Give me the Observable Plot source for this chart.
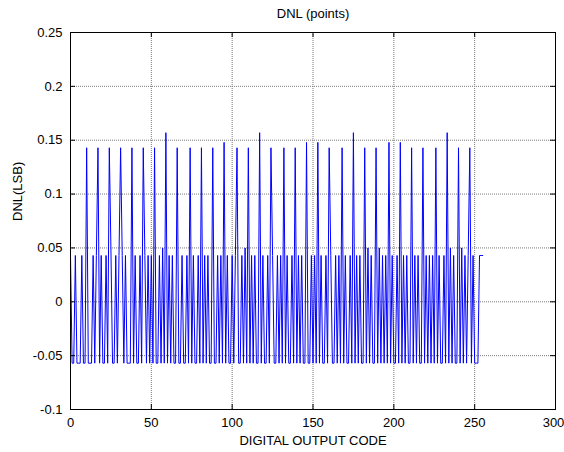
<!DOCTYPE html>
<html>
<head>
<meta charset="utf-8">
<script src="https://cdn.jsdelivr.net/npm/d3@7"></script>
<script src="https://cdn.jsdelivr.net/npm/@observablehq/plot@0.6"></script>
<style>
  html, body { margin: 0; padding: 0; background: #fff; }
</style>
</head>
<body>
<div id="chart"></div>
<script>
const titleText = "DNL (points)";
const xLabel = "DIGITAL OUTPUT CODE";
const yLabel = "DNL(LSB)";
const xTicks = [0, 50, 100, 150, 200, 250, 300];
const yTicks = [-0.1, -0.05, 0, 0.05, 0.1, 0.15, 0.2, 0.25];

// DNL value for each output code 0..255
const dnl = [
  0.043,-0.057,-0.057,0.043,-0.057,-0.057,-0.057,0.043,-0.057,-0.057,0.143,-0.057,-0.057,-0.057,0.043,-0.057,
  0.043,0.143,-0.057,0.043,-0.057,-0.057,0.043,-0.057,0.143,0.05,-0.057,-0.057,0.043,-0.057,0.043,0.143,
  0.043,-0.057,0.043,-0.057,-0.057,-0.057,0.143,-0.057,0.043,-0.057,-0.057,0.043,-0.057,0.143,0.043,-0.057,
  0.043,-0.057,0.043,-0.057,0.143,-0.057,-0.057,0.043,-0.057,0.05,-0.057,0.157,-0.057,0.043,-0.057,0.043,
  -0.057,-0.057,0.143,-0.057,-0.057,0.043,-0.057,-0.057,0.043,-0.057,0.143,-0.057,0.043,-0.057,-0.057,0.043,
  -0.057,0.143,-0.057,0.043,-0.057,0.043,-0.057,-0.057,0.143,-0.057,-0.057,0.043,-0.057,0.043,-0.057,0.148,
  -0.057,0.043,-0.057,-0.057,0.043,-0.057,0.043,0.143,-0.057,-0.057,0.043,-0.057,0.05,-0.057,0.143,-0.057,
  0.043,-0.057,0.043,-0.057,-0.057,0.157,-0.057,0.043,-0.057,-0.057,0.043,-0.057,0.143,0.043,-0.057,-0.057,
  0.043,-0.057,0.043,-0.057,0.143,-0.057,0.043,-0.057,-0.057,0.043,-0.057,0.143,-0.057,0.043,-0.057,0.043,
  -0.057,-0.057,0.148,-0.057,-0.057,0.043,-0.057,0.043,-0.057,0.148,-0.057,0.043,-0.057,-0.057,0.043,-0.057,
  0.143,0.043,-0.057,-0.057,0.043,-0.057,0.043,-0.057,0.143,-0.057,0.043,-0.057,-0.057,0.043,-0.057,0.157,
  -0.057,0.043,-0.057,0.043,-0.057,-0.057,0.143,-0.057,0.05,-0.057,0.043,-0.057,-0.057,0.143,-0.057,0.05,
  -0.057,0.043,-0.057,0.043,-0.057,0.148,-0.057,0.043,-0.057,-0.057,0.043,-0.057,0.148,-0.057,0.043,-0.057,
  0.043,-0.057,-0.057,0.143,-0.057,0.043,-0.057,0.043,-0.057,-0.057,0.143,-0.057,0.043,-0.057,0.043,-0.057,
  0.043,-0.057,0.143,-0.057,0.043,-0.057,-0.057,0.043,-0.057,0.157,-0.057,0.05,-0.057,0.043,-0.057,-0.057,
  0.143,-0.057,0.05,-0.057,0.043,-0.057,0.043,0.143,-0.057,0.043,-0.057,-0.057,-0.057,0.043,0.043,0.043
];

const data = dnl.map((v, i) => ({code: i, dnl: v}));

const W = 564, H = 452;
const mL = 70, mR = 9, mT = 32, mB = 43;
const pw = W - mL - mR, ph = H - mT - mB;
const tick = 5;

const chart = Plot.plot({
  width: W,
  height: H,
  marginLeft: mL,
  marginRight: mR,
  marginTop: mT,
  marginBottom: mB,
  style: {
    fontFamily: "'Liberation Sans', Arial, Helvetica, sans-serif",
    fontSize: "13px",
    background: "#fff",
    color: "#000"
  },
  x: {domain: [0, 300]},
  y: {domain: [-0.1, 0.25]},
  marks: [
    Plot.gridX(xTicks, {stroke: "#7a7a7a", strokeOpacity: 1, strokeDasharray: "1,1"}),
    Plot.gridY(yTicks, {stroke: "#7a7a7a", strokeOpacity: 1, strokeDasharray: "1,1"}),
    Plot.line(data, {x: "code", y: "dnl", stroke: "#0000ff", strokeWidth: 1}),
    Plot.ruleX(xTicks, {stroke: "#000", insetTop: ph - tick}),
    Plot.ruleX(xTicks, {stroke: "#000", insetBottom: ph - tick}),
    Plot.ruleY(yTicks, {stroke: "#000", insetRight: pw - tick}),
    Plot.ruleY(yTicks, {stroke: "#000", insetLeft: pw - tick}),
    Plot.frame({stroke: "#000"}),
    Plot.axisX(xTicks.slice(0, -1), {tickSize: 0, tickPadding: 8, label: null, tickFormat: d => String(d)}),
    Plot.axisX(xTicks.slice(-1), {tickSize: 0, tickPadding: 8, label: null, dx: -2, tickFormat: d => String(d)}),
    Plot.axisY(yTicks, {tickSize: 0, tickPadding: 8, label: null, tickFormat: d => String(d)}),
    Plot.text([titleText], {text: d => d, frameAnchor: "top", lineAnchor: "middle", dy: -19}),
    Plot.text([xLabel], {text: d => d, frameAnchor: "bottom", lineAnchor: "middle", dy: 31}),
    Plot.text([yLabel], {text: d => d, frameAnchor: "left", lineAnchor: "middle", dx: -53, rotate: -90})
  ]
});

document.getElementById("chart").appendChild(chart);
</script>
</body>
</html>
